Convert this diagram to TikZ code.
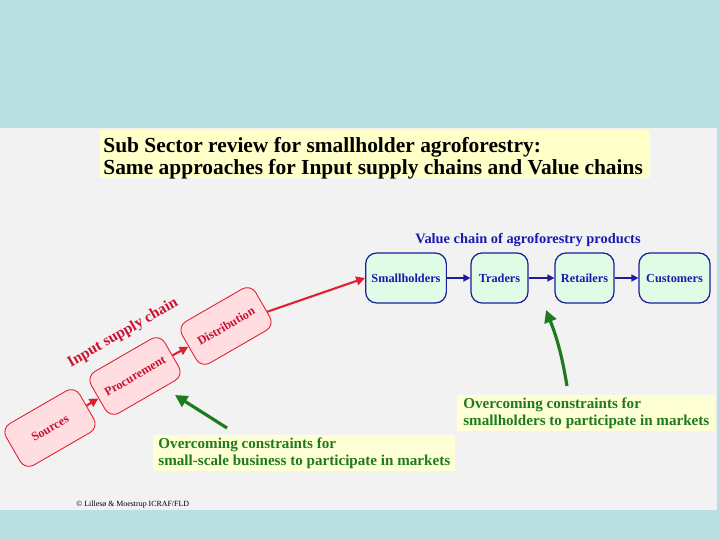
\documentclass[tikz,border=0pt]{standalone}
\usepackage{fontspec}
\setmainfont{Liberation Serif}
\usetikzlibrary{arrows.meta, positioning, calc}

\definecolor{slideblue}{HTML}{BADFE3}
\definecolor{panelgray}{HTML}{F2F2F2}
\definecolor{notebg}{HTML}{FFFFD6}
\definecolor{titlebg}{HTML}{FFFFC8}
\definecolor{vcfill}{HTML}{E0FCE6}
\definecolor{vcline}{HTML}{1C1C9C}
\definecolor{vctext}{HTML}{1A1AAE}
\definecolor{scfill}{HTML}{FFDDE0}
\definecolor{scline}{HTML}{E02030}
\definecolor{sctext}{HTML}{CC1133}
\definecolor{notegreen}{HTML}{1E7A1E}

\begin{document}
\begin{tikzpicture}[
      x=0.02cm, y=-0.02cm,
      vcbox/.style={draw=vcline, fill=vcfill, rounded corners=0.22cm, line width=0.7pt,
        minimum height=1cm, text height=1.5ex, text depth=0.3ex,
        text=vctext, font=\bfseries\fontsize{7}{8}\selectfont},
      scbox/.style={draw=scline, fill=scfill, rounded corners=0.2cm, line width=0.5pt,
        minimum width=1.7cm, minimum height=0.96cm, rotate=30,
        text=sctext, font=\bfseries\fontsize{7}{9}\selectfont},
      note/.style={fill=notebg, text=notegreen, align=left, inner sep=1.5pt,
        font=\bfseries\fontsize{8.6}{9.6}\selectfont},
      vcarrow/.style={-{Triangle[length=4pt,width=4pt]}, draw=vcline, line width=0.8pt},
      scarrow/.style={-{Triangle[length=5pt,width=5pt]}, draw=scline, line width=1.2pt},
      notearrow/.style={-{Triangle[length=7pt,width=7pt]}, draw=notegreen, line width=1.8pt}
    ]
    % slide background and panel
    \fill[slideblue] (0,0) rectangle (720,540);
    \fill[panelgray] (0,128) rectangle (717,510);
    \useasboundingbox (0,0) rectangle (720,540);

    % title
    \fill[titlebg] (100,130) rectangle (650,178);
    \node[anchor=west, align=left, inner sep=0pt, font=\bfseries\fontsize{12.2}{11}\selectfont]
      (title) at (103,158) {Sub Sector review for smallholder agroforestry:\\
      Same approaches for Input supply chains and Value chains};

    % value chain
    \node[text=vctext, font=\bfseries\fontsize{8.2}{9}\selectfont] (vctitle) at (528,240)
      {Value chain of agroforestry products};
    \node[vcbox, minimum width=1.56cm] (smallholders) at (406,278) {Smallholders};
    \node[vcbox, minimum width=1.14cm] (traders) at (499.5,278) {Traders};
    \node[vcbox, minimum width=1.18cm] (retailers) at (584.5,278) {Retailers};
    \node[vcbox, minimum width=1.42cm] (customers) at (674.5,278) {Customers};
    \draw[vcarrow, line width=1.5pt] (smallholders) -- (traders);
    \draw[vcarrow] (traders) -- (retailers);
    \draw[vcarrow] (retailers) -- (customers);

    % input supply chain
    \node[scbox] (sources) at (50,428) {Sources};
    \node[scbox] (procurement) at (135,376) {Procurement};
    \node[scbox] (distribution) at (226,326) {Distribution};
    \node[rotate=30, text=sctext, font=\bfseries\fontsize{8.8}{10}\selectfont]
      (sclabel) at (123,333) {Input supply chain};
    \draw[scarrow] (sources) -- (procurement);
    \draw[scarrow] (procurement) -- (distribution);
    \draw[scarrow] (distribution) -- (smallholders.west);

    % constraints
    \node[note, minimum width=6.04cm, minimum height=0.66cm, anchor=north west]
      (smallbiz) at (153,435) {Overcoming constraints for\\
      small-scale business to participate in markets};
    \node[note, minimum width=5.16cm, minimum height=0.6cm, anchor=north west]
      (smallhold) at (457,395) {Overcoming constraints for\\
      smallholders to participate in markets};
    \coordinate (bizfrom) at (227,428);
    \coordinate (bizto) at (175,395);
    \coordinate (holdfrom) at (567,386);
    \coordinate (holdto) at (546,310);
    \draw[notearrow] (bizfrom) -- (bizto);
    \draw[notearrow] (holdfrom) to[bend right=6] (holdto);

    % credit
    \node[anchor=west, inner sep=0pt, font=\fontsize{4.5}{5}\selectfont]
      (credit) at (76,505) {© Lillesø \& Moestrup ICRAF/FLD};
    \end{tikzpicture}
\end{document}
